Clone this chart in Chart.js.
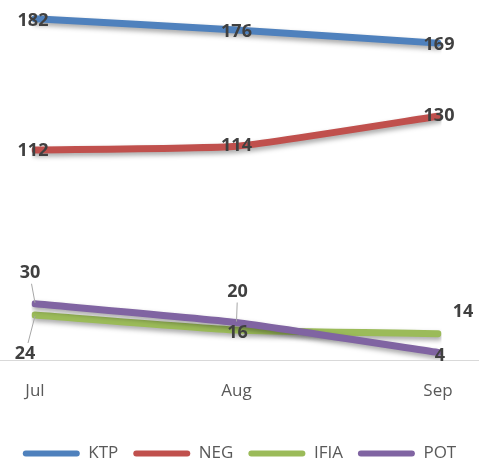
<!DOCTYPE html>
<html><head><meta charset="utf-8">
<script src="https://cdn.jsdelivr.net/npm/chart.js@4/dist/chart.umd.min.js"></script>
<style>html,body{margin:0;padding:0;background:#fff;overflow:hidden;}#wrap{width:479px;height:462px;}</style>
</head><body><div id="wrap"><canvas id="c" width="479" height="462"></canvas></div>
<script>
const categories = ["Jul", "Aug", "Sep"];
const seriesNames = ["KTP", "NEG", "IFIA", "POT"];
const ktp = [182, 176, 169];
const neg = [112, 114, 130];
const ifia = [24, 16, 14];
const pot = [30, 20, 4];
const colors = ["#4F81BD", "#C0504D", "#9BBB59", "#8064A2"];
// label offsets (dx, dy) from point, and whether a leader line is drawn
const labelOffsets = [
  [[-2,2],[0,2],[1,2]],
  [[-2,1],[0,0],[1,0]],
  [[-10,39],[1,3],[25,-22]],
  [[-5,-31],[1,-31],[2,3]]
];
const leaders = [
  [false,false,false],[false,false,false],
  [true,false,false],[true,true,false]
];

const shadowPlugin = {
  id: 'shadow',
  beforeDatasetsDraw(chart) {
    const ctx = chart.ctx, xs = chart.scales.x;
    ctx.save(); ctx.strokeStyle = '#D9D9D9'; ctx.lineWidth = 1;
    ctx.beginPath(); ctx.moveTo(0, Math.round(xs.top) + 0.5); ctx.lineTo(chart.width, Math.round(xs.top) + 0.5); ctx.stroke();
    ctx.restore();
  },
  beforeDatasetDraw(chart) {
    const ctx = chart.ctx; ctx.save();
    ctx.shadowColor = 'rgba(0,0,0,0.35)'; ctx.shadowBlur = 5; ctx.shadowOffsetX = 1; ctx.shadowOffsetY = 3;
  },
  afterDatasetDraw(chart) { chart.ctx.restore(); }
};
const labelPlugin = {
  id: 'labels',
  afterDatasetsDraw(chart) {
    const ctx = chart.ctx;
    ctx.save();
    chart.data.datasets.forEach((ds, i) => {
      const meta = chart.getDatasetMeta(i);
      meta.data.forEach((pt, j) => {
        const [dx, dy] = labelOffsets[i][j];
        const lx = pt.x + dx, ly = pt.y + dy;
        if (leaders[i][j]) {
          ctx.strokeStyle = '#A6A6A6'; ctx.lineWidth = 1;
          ctx.beginPath();
          const sy = dy < 0 ? ly + 11 : ly - 11;
          const sx = lx + (pt.x - lx) * 0.3;
          ctx.moveTo(sx, sy); ctx.lineTo(pt.x, pt.y + (dy<0?-1:1));
          ctx.stroke();
        }
        ctx.font = 'bold 18px "Open Sans", sans-serif';
        ctx.fillStyle = '#404040';
        ctx.textAlign = 'center'; ctx.textBaseline = 'middle';
        ctx.fillText(String(ds.data[j]), lx, ly);
      });
    });
    ctx.restore();
  }
};

const dataArrays = [ktp, neg, ifia, pot];
const hiddenAxis = (pos, w) => ({ position: pos, display: true, min: 0, max: 192,
  grid: { display: false, drawTicks: false }, border: { display: false }, ticks: { display: false },
  afterFit(s) { s.width = w; } });
new Chart(document.getElementById('c'), {
  type: 'line',
  data: {
    labels: categories,
    datasets: seriesNames.map((n, i) => ({
      label: n, data: dataArrays[i], borderColor: colors[i], backgroundColor: colors[i],
      borderWidth: 7, pointRadius: 0, tension: 0.15, borderCapStyle: 'round', borderJoinStyle: 'round',
      order: 3 - i, fill: false, yAxisID: 'y'
    }))
  },
  options: {
    responsive: false, animation: false,
    layout: { padding: { left: 0, right: 0, top: 0, bottom: -10 } },
    scales: {
      y: hiddenAxis('left', 35),
      y2: hiddenAxis('right', 41),
      x: { offset: false, grid: { display: false, drawTicks: false }, border: { display: false },
           ticks: { color: '#595959', font: { family: '"Open Sans", sans-serif', size: 17 }, padding: 21 },
           afterFit(s) { s.height = 70; } }
    },
    plugins: {
      tooltip: { enabled: false },
      legend: { position: 'bottom',
        labels: { boxWidth: 57, boxHeight: 6, useBorderRadius: true, borderRadius: 3, padding: 15, color: '#595959',
          font: { family: '"Open Sans", sans-serif', size: 17 },
          sort: (a, b) => a.datasetIndex - b.datasetIndex,
          generateLabels(chart) {
            return chart.data.datasets.map((ds, i) => ({ text: ds.label, fillStyle: ds.borderColor, strokeStyle: ds.borderColor, lineWidth: 0, datasetIndex: i, fontColor: '#595959', borderRadius: 3 }));
          }
        }
      }
    }
  },
  plugins: [shadowPlugin, labelPlugin]
});
</script></body></html>
